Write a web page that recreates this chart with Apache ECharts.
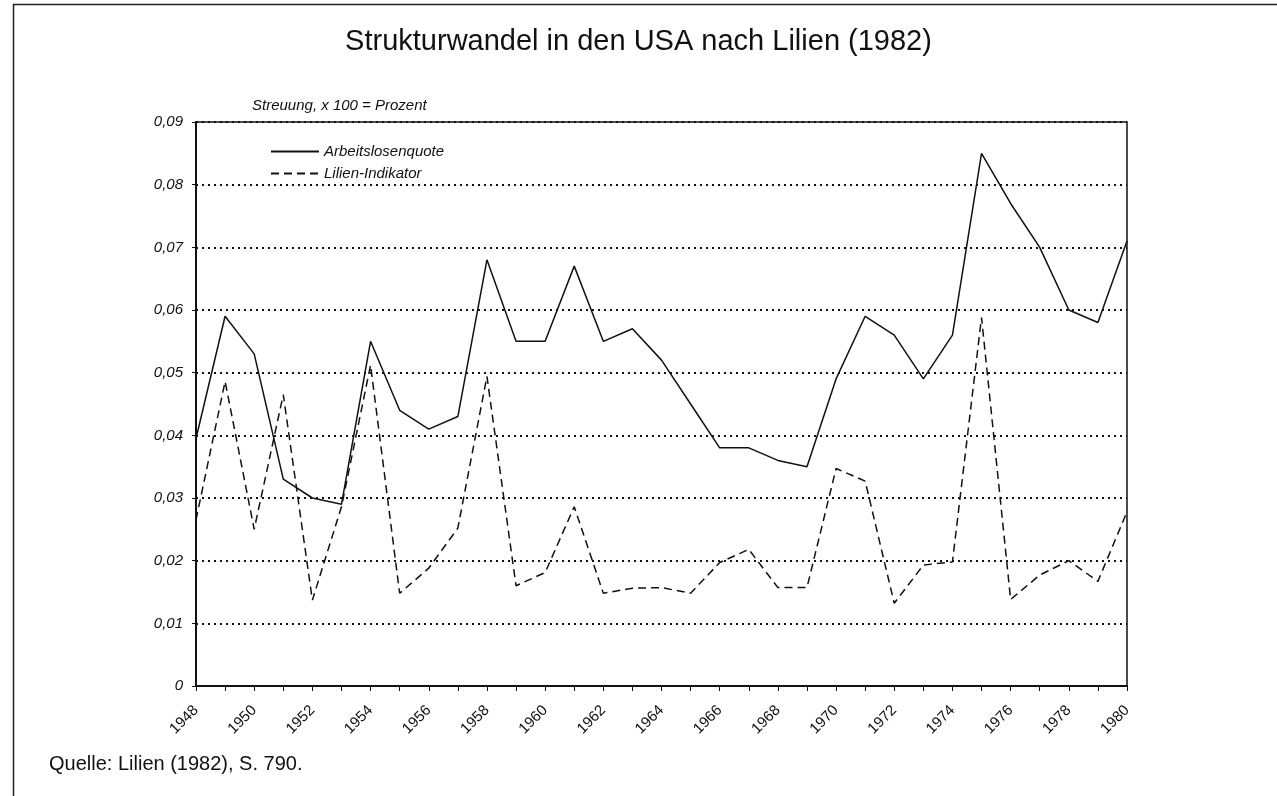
<!DOCTYPE html>
<html>
<head>
<meta charset="utf-8">
<script src="https://cdn.jsdelivr.net/npm/echarts@6/dist/echarts.min.js"></script>
<style>
  html, body { margin: 0; padding: 0; background: #fff; }
  #chart { width: 1277px; height: 796px; }
</style>
</head>
<body>
<div id="chart"></div>
<script>
var years = ['1948', '1949', '1950', '1951', '1952', '1953', '1954', '1955', '1956', '1957',
    '1958', '1959', '1960', '1961', '1962', '1963', '1964', '1965', '1966', '1967',
    '1968', '1969', '1970', '1971', '1972', '1973', '1974', '1975', '1976', '1977',
    '1978', '1979', '1980'];

// Arbeitslosenquote (durchgezogen)
var arbeitslosenquote = [0.0395, 0.059, 0.053, 0.033, 0.030, 0.029, 0.055, 0.044, 0.041, 0.043,
    0.068, 0.055, 0.055, 0.067, 0.055, 0.057, 0.052, 0.045, 0.038, 0.038,
    0.036, 0.035, 0.049, 0.059, 0.056, 0.049, 0.056, 0.085, 0.077, 0.070,
    0.060, 0.058, 0.071];

// Lilien-Indikator (gestrichelt)
var lilienIndikator = [0.0265, 0.0486, 0.025, 0.0465, 0.0137, 0.0286, 0.0512, 0.0148, 0.0188, 0.0252,
    0.0494, 0.016, 0.0181, 0.0286, 0.0148, 0.0156, 0.0157, 0.0148, 0.0197, 0.0218,
    0.0157, 0.0157, 0.0347, 0.0327, 0.0132, 0.0193, 0.0198, 0.0588, 0.0138, 0.0177,
    0.0200, 0.0167, 0.0278];

var seriesNames = ['Arbeitslosenquote', 'Lilien-Indikator'];

var font = '"Liberation Sans", Arial, sans-serif';
var ink = '#111';

var option = {
    animation: false,
    backgroundColor: '#fff',
    title: [
        {
            text: 'Strukturwandel in den USA nach Lilien (1982)',
            left: 'center',
            top: 22,
            textStyle: { fontFamily: font, fontSize: 29, fontWeight: 'normal', color: ink }
        },
        {
            text: 'Streuung, x 100 = Prozent',
            left: 247,
            top: 93,
            textStyle: { fontFamily: font, fontSize: 15, fontStyle: 'italic', fontWeight: 'normal', color: ink }
        }
    ],
    legend: {
        orient: 'vertical',
        left: 270,
        top: 144,
        padding: 0,
        itemWidth: 48,
        itemHeight: 14,
        itemGap: 7,
        data: seriesNames,
        itemStyle: { opacity: 0 },
        textStyle: { fontFamily: font, fontSize: 15, fontStyle: 'italic', color: ink }
    },
    grid: {
        left: 196,
        right: 150,
        top: 122,
        bottom: 110,
        show: true,
        borderColor: ink,
        borderWidth: 1.5
    },
    xAxis: {
        type: 'category',
        data: years,
        boundaryGap: false,
        axisLine: { lineStyle: { color: ink, width: 2 } },
        axisTick: { show: true, interval: 0, length: 5, lineStyle: { color: ink, width: 1 } },
        axisLabel: {
            interval: 1,
            rotate: 45,
            margin: 22,
            fontFamily: font,
            fontSize: 15,
            color: ink
        },
        splitLine: { show: false }
    },
    yAxis: {
        type: 'value',
        min: 0,
        max: 0.09,
        interval: 0.01,
        axisLine: { show: true, lineStyle: { color: ink, width: 2 } },
        axisTick: { show: true, length: 4, lineStyle: { color: ink } },
        axisLabel: {
            margin: 13,
            fontFamily: font,
            fontSize: 15,
            fontStyle: 'italic',
            color: ink,
            formatter: function (v) {
                return v === 0 ? '0' : v.toFixed(2).replace('.', ',');
            }
        },
        splitLine: { show: true, lineStyle: { color: ink, width: 2, type: [2, 4] } }
    },
    graphic: [
        {
            type: 'rect',
            left: 11,
            top: 2,
            shape: { width: 1265, height: 830 },
            style: { fill: 'none', stroke: '#222', lineWidth: 1.5 },
            silent: true
        },
        {
            type: 'text',
            x: 49,
            y: 764,
            style: {
                text: 'Quelle: Lilien (1982), S. 790.',
                fontFamily: font,
                fontSize: 20,
                fill: ink,
                verticalAlign: 'middle'
            }
        }
    ],
    series: [
        {
            name: seriesNames[0],
            type: 'line',
            data: arbeitslosenquote,
            symbol: 'none',
            lineStyle: { color: ink, width: 1.5, type: 'solid' },
            itemStyle: { color: ink }
        },
        {
            name: seriesNames[1],
            type: 'line',
            data: lilienIndikator,
            symbol: 'none',
            lineStyle: { color: ink, width: 1.5, type: [8, 5] },
            itemStyle: { color: ink }
        }
    ]
};

var myChart = echarts.init(document.getElementById('chart'));
myChart.setOption(option);
</script>
</body>
</html>
